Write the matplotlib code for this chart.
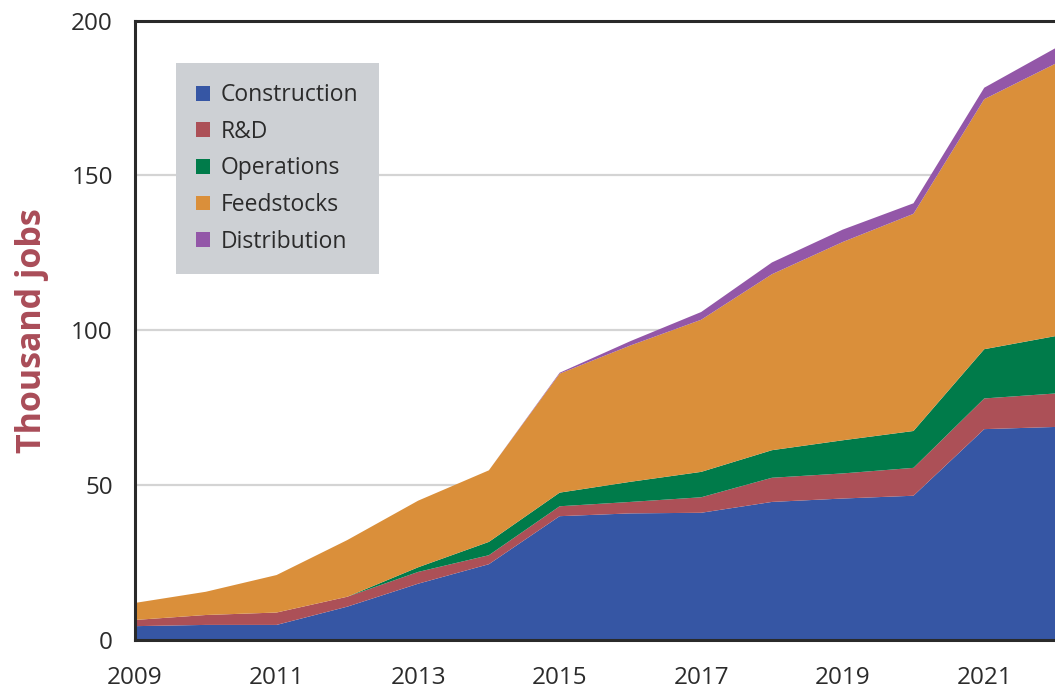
import matplotlib
matplotlib.use("Agg")
import matplotlib.pyplot as plt
from matplotlib.patches import Patch
import numpy as np

plt.rcParams["font.family"] = ["Open Sans", "DejaVu Sans"]

years = [2009, 2010, 2011, 2012, 2013, 2014, 2015, 2016, 2017, 2018, 2019, 2020, 2021, 2022]
construction = [4.5, 4.9, 4.9, 10.8, 18.2, 24.5, 40.0, 40.9, 41.1, 44.6, 45.7, 46.6, 68.1, 68.8]
rnd = [2.0, 3.2, 4.0, 3.2, 3.8, 2.9, 3.2, 3.7, 5.0, 7.8, 8.1, 9.0, 9.9, 10.8]
operations = [0, 0, 0, 0, 1.5, 4.3, 4.4, 6.5, 8.2, 8.9, 10.7, 11.9, 15.9, 18.5]
feedstocks = [5.5, 7.5, 12.1, 18.3, 21.5, 23.1, 38.4, 44.0, 49.1, 56.8, 64.0, 70.1, 80.7, 87.9]
distribution = [0, 0, 0, 0, 0, 0, 0.3, 1.4, 2.5, 3.8, 4.0, 3.4, 3.7, 5.0]

labels = ["Construction", "R&D", "Operations", "Feedstocks", "Distribution"]
colors = ["#3656A4", "#AC5057", "#007B4A", "#DA8F3A", "#9357A8"]
xticks = [2009, 2011, 2013, 2015, 2017, 2019, 2021]
yticks = [0, 50, 100, 150, 200]

fig = plt.figure(figsize=(10.55, 6.95), dpi=100)
ax = fig.add_axes([0.128, 0.079, 0.872, 0.8915])

ax.stackplot(years, construction, rnd, operations, feedstocks, distribution,
             colors=colors, linewidth=0, zorder=2)

ax.set_xlim(2009, 2022)
ax.set_ylim(0, 200)
ax.set_xticks(xticks)
ax.set_yticks(yticks)
ax.tick_params(axis="both", length=0, labelsize=17.5, labelcolor="#2b2b2b")
ax.tick_params(axis="x", pad=19)
ax.tick_params(axis="y", pad=16)

for v in [50, 100, 150]:
    ax.axhline(v, color="#d4d4d4", lw=1.6, zorder=1)

for side in ["left", "bottom", "top"]:
    ax.spines[side].set_color("#2a2a2a")
    ax.spines[side].set_linewidth(2.2)
ax.spines["right"].set_visible(False)

ax.set_ylabel("Thousand jobs", fontsize=24.5, fontweight="bold", color="#A94C58", labelpad=16)

handles = [Patch(facecolor=c, edgecolor="none") for c in colors]
leg = ax.legend(handles, labels, loc="upper left", bbox_to_anchor=(0.044, 0.932),
                fontsize=16.5, frameon=True, fancybox=False, framealpha=1,
                handlelength=0.62, handleheight=0.62, handletextpad=0.45,
                labelspacing=0.55, borderpad=0.9, borderaxespad=0)
leg.get_frame().set_facecolor("#CDD0D4")
leg.get_frame().set_edgecolor("none")
for t in leg.get_texts():
    t.set_color("#2b2b2b")

fig.savefig("out.png", dpi=100)
